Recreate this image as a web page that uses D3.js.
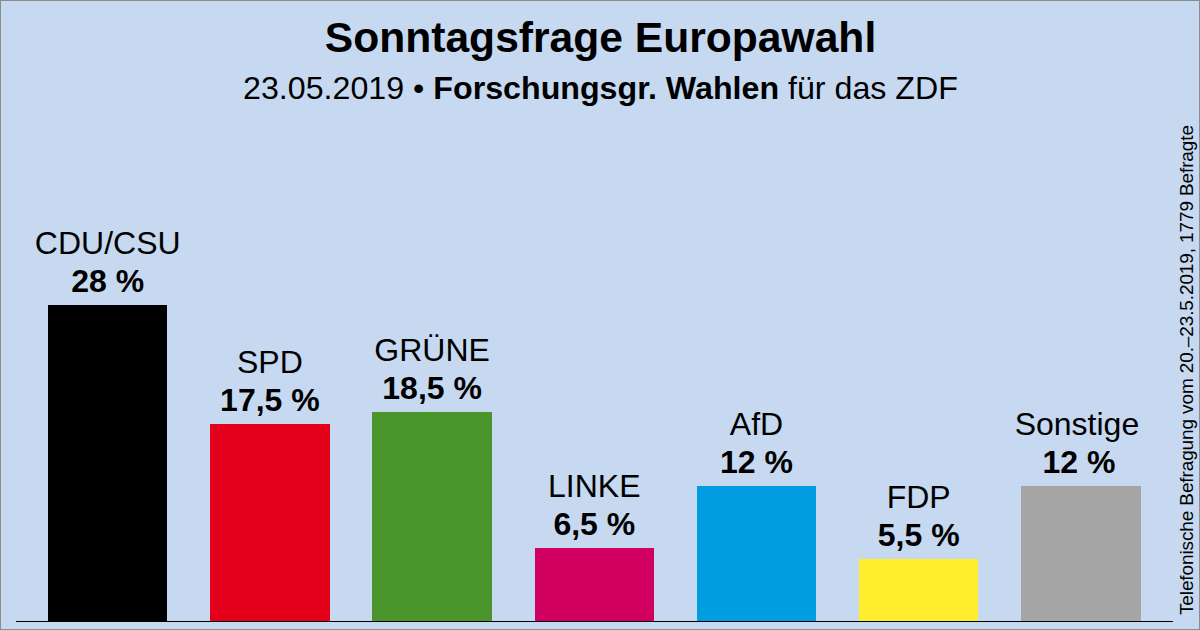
<!DOCTYPE html>
<html>
<head>
<meta charset="utf-8">
<script src="https://cdnjs.cloudflare.com/ajax/libs/d3/7.8.5/d3.min.js"></script>
<style>
  html, body { margin: 0; padding: 0; background: #c6d9f1; }
  svg { display: block; }
  text { font-family: "Liberation Sans", Arial, sans-serif; fill: #000; }
</style>
</head>
<body>
<div id="chart"></div>
<script>
// werte aus dem bild
const parties = ["CDU/CSU", "SPD", "GRÜNE", "LINKE", "AfD", "FDP", "Sonstige"];
const values = [28, 17.5, 18.5, 6.5, 12, 5.5, 12];
const colors = ["#000000", "#e2001a", "#4a962d", "#d10060", "#009ee0", "#ffed2e", "#a5a5a5"];
const valueLabels = ["28 %", "17,5 %", "18,5 %", "6,5 %", "12 %", "5,5 %", "12 %"];

const title = "Sonntagsfrage Europawahl";
const note = "Telefonische Befragung vom 20.–23.5.2019, 1779 Befragte";

const width = 1200, height = 630, baseline = 621;

const svg = d3.select("#chart").append("svg")
  .attr("width", width)
  .attr("height", height);

// hintergrund mit grauem rand
svg.append("rect")
  .attr("x", 0.5).attr("y", 0.5)
  .attr("width", width - 1).attr("height", height - 1)
  .attr("fill", "#c6d9f1")
  .attr("stroke", "#8c8c8c");

const x = d3.scaleBand()
  .domain(parties)
  .range([48, 1140.6])
  .paddingInner(0.264);

const y = d3.scaleLinear()
  .domain([0, 28])
  .range([baseline, 305]);

const barLeft = d => Math.round(x(d));
const barRight = d => Math.round(x(d) + x.bandwidth());
const barTop = i => Math.round(y(values[i]));

svg.selectAll("rect.bar")
  .data(parties)
  .join("rect")
  .attr("class", "bar")
  .attr("x", barLeft)
  .attr("width", d => barRight(d) - barLeft(d))
  .attr("y", (d, i) => barTop(i))
  .attr("height", (d, i) => baseline - barTop(i))
  .attr("fill", (d, i) => colors[i]);

// grundlinie
svg.append("line")
  .attr("x1", 16).attr("x2", 1173)
  .attr("y1", baseline + 0.5).attr("y2", baseline + 0.5)
  .attr("stroke", "#000");

// Sonstige steht im original etwas weiter links
const shift = (d, px) => d === "Sonstige" ? px : 0;

// beschriftung der balken
svg.selectAll("text.party")
  .data(parties)
  .join("text")
  .attr("class", "party")
  .attr("x", d => x(d) + x.bandwidth() / 2 + shift(d, -4))
  .attr("y", (d, i) => barTop(i) - 51)
  .attr("text-anchor", "middle")
  .attr("font-size", 32)
  .text(d => d);

svg.selectAll("text.value")
  .data(parties)
  .join("text")
  .attr("class", "value")
  .attr("x", d => x(d) + x.bandwidth() / 2 + shift(d, -2))
  .attr("y", (d, i) => barTop(i) - 13)
  .attr("text-anchor", "middle")
  .attr("font-size", 32)
  .attr("font-weight", "bold")
  .text((d, i) => valueLabels[i]);

// titel
svg.append("text")
  .attr("x", 600.5).attr("y", 52)
  .attr("text-anchor", "middle")
  .attr("font-size", 42.6)
  .attr("font-weight", "bold")
  .text(title);

const sub = svg.append("text")
  .attr("x", 600.5).attr("y", 99)
  .attr("text-anchor", "middle")
  .attr("font-size", 32.2);
sub.append("tspan").text("23.05.2019 • ");
sub.append("tspan").attr("font-weight", "bold").text("Forschungsgr. Wahlen");
sub.append("tspan").text(" für das ZDF");

// hinweis am rechten rand
svg.append("text")
  .attr("transform", "translate(1193,615) rotate(-90)")
  .attr("font-size", 19)
  .attr("textLength", 490)
  .text(note);
</script>
</body>
</html>
